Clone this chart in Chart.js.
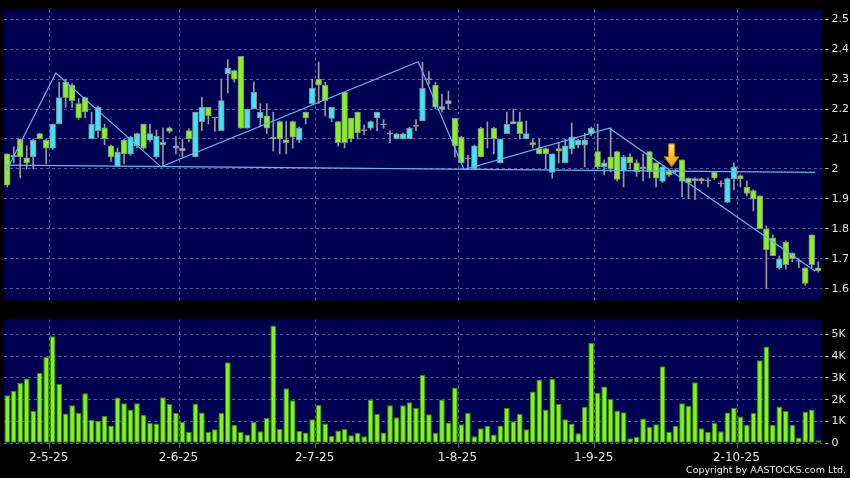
<!DOCTYPE html>
<html>
<head>
<meta charset="utf-8">
<script src="https://cdn.jsdelivr.net/npm/chart.js@4.4.1/dist/chart.umd.min.js"></script>
<style>
  html, body { margin: 0; padding: 0; background: #000; }
  #wrap { position: relative; width: 850px; height: 478px; overflow: hidden; background: #000; }
  #priceChart { position: absolute; left: 0; top: 0; }
  #volChart { position: absolute; left: 0; top: 310px; }
  #copy { position: absolute; right: 4px; top: 464px; font: 9.5px 'DejaVu Sans', sans-serif; color: #eee; white-space: nowrap; }
</style>
</head>
<body>
<div id="wrap">
  <canvas id="priceChart" width="850" height="310"></canvas>
  <canvas id="volChart" width="850" height="168"></canvas>
  <div id="copy">Copyright by AASTOCKS.com Ltd.</div>
</div>
<script>
// Daily candles (price)
const opens = [2.05, 2.04, 2.10, 2.037, 2.04, 2.118, 2.096, 2.069, 2.15, 2.29,
  2.28, 2.218, 2.238, 2.10, 2.128, 2.137, 2.077, 2.008, 2.096, 2.05,
  2.077, 2.15, 2.096, 2.04, 2.08, 2.137, 2.069, 2.06, 2.128, 2.04,
  2.158, 2.206, 2.17, 2.128, 2.318, 2.328, 2.376, 2.136, 2.2, 2.17,
  2.177, 2.106, 2.158, 2.097, 2.158, 2.096, 2.19, 2.218, 2.30, 2.28,
  2.169, 2.158, 2.257, 2.17, 2.19, 2.128, 2.136, 2.17, 2.147, 2.117,
  2.10, 2.10, 2.10, 2.142, 2.16, 2.298, 2.28, 2.199, 2.218, 2.169,
  2.106, 2.034, 2.0, 2.136, 2.10, 2.136, 2.02, 2.118, 2.15, 2.158,
  2.10, 2.088, 2.068, 2.068, 1.988, 2.068, 2.021, 2.068, 2.079, 2.079,
  2.118, 2.058, 2.007, 2.04, 2.058, 1.995, 2.04, 2.02, 2.0, 2.058,
  2.02, 1.958, 1.993, 1.99, 2.03, 1.969, 1.968, 1.968, 1.96, 1.989,
  1.95, 1.888, 1.967, 1.978, 1.939, 1.928, 1.91, 1.80, 1.77, 1.67,
  1.756, 1.719, 1.691, 1.67, 1.78, 1.67];
const highs = [2.05, 2.075, 2.10, 2.077, 2.10, 2.12, 2.10, 2.15, 2.29, 2.30,
  2.285, 2.235, 2.24, 2.19, 2.21, 2.15, 2.08, 2.07, 2.10, 2.11,
  2.12, 2.15, 2.15, 2.13, 2.137, 2.14, 2.108, 2.10, 2.135, 2.19,
  2.24, 2.206, 2.17, 2.30, 2.365, 2.33, 2.376, 2.2, 2.29, 2.218,
  2.218, 2.19, 2.16, 2.158, 2.16, 2.14, 2.19, 2.30, 2.357, 2.29,
  2.206, 2.158, 2.257, 2.17, 2.19, 2.147, 2.16, 2.19, 2.165, 2.128,
  2.12, 2.12, 2.14, 2.165, 2.357, 2.325, 2.29, 2.25, 2.26, 2.17,
  2.11, 2.045, 2.08, 2.14, 2.157, 2.14, 2.10, 2.19, 2.20, 2.19,
  2.16, 2.10, 2.10, 2.07, 2.05, 2.088, 2.10, 2.153, 2.10, 2.12,
  2.14, 2.15, 2.03, 2.137, 2.06, 2.045, 2.05, 2.03, 2.05, 2.06,
  2.02, 2.01, 2.0, 2.0, 2.03, 1.97, 1.97, 1.97, 1.97, 1.99,
  1.96, 1.97, 2.02, 1.98, 1.96, 1.93, 1.91, 1.81, 1.78, 1.71,
  1.76, 1.72, 1.70, 1.67, 1.78, 1.69];
const lows = [1.94, 2.02, 1.97, 2.00, 2.00, 2.10, 2.017, 2.065, 2.15, 2.205,
  2.205, 2.165, 2.17, 2.10, 2.105, 2.08, 2.025, 2.008, 2.017, 2.045,
  2.07, 2.065, 2.09, 2.035, 2.01, 2.12, 2.05, 2.04, 2.09, 2.04,
  2.128, 2.15, 2.125, 2.128, 2.254, 2.29, 2.136, 2.136, 2.2, 2.14,
  2.118, 2.06, 2.05, 2.05, 2.069, 2.088, 2.15, 2.215, 2.218, 2.177,
  2.158, 2.077, 2.07, 2.09, 2.10, 2.115, 2.13, 2.128, 2.135, 2.088,
  2.10, 2.10, 2.10, 2.128, 2.16, 2.283, 2.2, 2.19, 2.20, 2.04,
  2.02, 2.0, 2.0, 2.04, 2.07, 2.05, 2.02, 2.118, 2.15, 2.10,
  2.10, 2.07, 2.05, 2.0, 1.969, 2.02, 2.02, 2.05, 2.07, 2.007,
  2.11, 2.0, 1.98, 1.99, 1.96, 1.94, 2.0, 1.975, 1.96, 1.97,
  1.94, 1.955, 1.975, 1.985, 1.907, 1.90, 1.897, 1.95, 1.94, 1.965,
  1.94, 1.888, 1.93, 1.94, 1.91, 1.86, 1.80, 1.60, 1.71, 1.665,
  1.665, 1.69, 1.67, 1.612, 1.67, 1.655];
const closes = [1.946, 2.045, 2.04, 2.02, 2.096, 2.10, 2.069, 2.15, 2.238, 2.238,
  2.228, 2.17, 2.19, 2.15, 2.206, 2.10, 2.04, 2.056, 2.05, 2.106,
  2.118, 2.069, 2.118, 2.11, 2.089, 2.125, 2.077, 2.069, 2.10, 2.19,
  2.206, 2.177, 2.17, 2.228, 2.336, 2.30, 2.136, 2.2, 2.257, 2.19,
  2.136, 2.10, 2.10, 2.088, 2.106, 2.136, 2.17, 2.27, 2.28, 2.228,
  2.206, 2.088, 2.088, 2.10, 2.12, 2.128, 2.158, 2.19, 2.147, 2.117,
  2.117, 2.117, 2.136, 2.142, 2.269, 2.298, 2.206, 2.208, 2.228, 2.077,
  2.021, 2.034, 2.077, 2.04, 2.10, 2.10, 2.10, 2.149, 2.158, 2.118,
  2.118, 2.08, 2.05, 2.05, 2.05, 2.059, 2.077, 2.107, 2.096, 2.096,
  2.136, 2.007, 2.02, 2.0, 1.965, 2.04, 2.02, 1.99, 2.007, 1.99,
  1.969, 2.007, 1.98, 1.997, 1.958, 1.953, 1.96, 1.96, 1.96, 1.969,
  1.95, 1.968, 2.007, 1.967, 1.918, 1.899, 1.80, 1.73, 1.71, 1.70,
  1.68, 1.70, 1.691, 1.618, 1.68, 1.66];

// Volume in thousands of shares
const volumesK = [2.21, 2.41, 2.77, 2.97, 1.49, 3.23, 3.96, 4.91, 2.74, 1.37,
  1.75, 1.40, 2.30, 1.07, 1.04, 1.25, 0.82, 2.10, 1.84, 1.55,
  1.84, 1.30, 0.93, 0.91, 2.12, 1.80, 1.39, 0.99, 0.53, 1.83,
  1.42, 0.53, 0.64, 1.39, 3.72, 0.84, 0.52, 0.40, 0.98, 0.55,
  1.16, 5.41, 0.66, 2.53, 1.98, 0.56, 0.50, 1.11, 1.77, 0.91,
  0.34, 0.59, 0.66, 0.37, 0.47, 0.32, 2.01, 1.34, 0.50, 1.75,
  1.20, 1.75, 1.88, 1.63, 3.14, 1.33, 0.49, 2.01, 0.96, 2.56,
  0.88, 1.39, 0.32, 0.69, 0.79, 0.40, 0.82, 1.62, 1.01, 1.34,
  0.64, 2.38, 2.93, 1.55, 2.96, 1.80, 1.10, 0.91, 0.46, 1.68,
  4.60, 2.32, 2.61, 2.03, 1.51, 1.43, 0.23, 0.29, 1.14, 0.76,
  0.88, 3.54, 0.53, 0.79, 1.84, 1.72, 2.80, 0.69, 0.52, 0.93,
  0.55, 1.42, 1.63, 1.23, 0.84, 1.39, 3.81, 4.45, 0.85, 1.69,
  1.48, 0.85, 0.27, 1.46, 1.55, 0.14];

const priceTicks = [1.6, 1.7, 1.8, 1.9, 2.0, 2.1, 2.2, 2.3, 2.4, 2.5];
const volumeTicks = [0, 1, 2, 3, 4, 5];
const dateTickIndex = [7, 27, 48, 70, 91, 113];
const dateTickText = ['2-5-25', '2-6-25', '2-7-25', '1-8-25', '1-9-25', '2-10-25'];

// Drawn trend lines (bar index, price)
const flatLineX = [-0.2, 124.5];
const flatLineY = [2.013, 1.9885];
const zigzagX = [-0.1, 7.48, 23.7, 63.35, 70.4, 92.8, 124.5];
const zigzagY = [1.995, 2.32, 2.007, 2.358, 1.998, 2.136, 1.659];

// Signal arrow
const arrowIndex = 102.4;
const arrowTip = 2.007;

const N = closes.length;
const labels = Array.from({ length: N }, (_, i) => {
    const k = dateTickIndex.indexOf(i);
    return k >= 0 ? dateTickText[k] : '';
});

const upColor = '#3ce6f6';
const downColor = '#84f41e';
const dojiColor = '#999999';
const wickColor = '#999999';
const navy = '#000052';
const gridColor = '#5a5a94';
const textColor = '#e4e4e4';
const lineColor = '#62b6f0';

const gridAt = ctx => (ctx.tick && ctx.tick.label) ? gridColor : 'transparent';

// Paint plot background
const bgPlugin = {
    id: 'bg',
    beforeDraw(chart) {
        const { ctx, chartArea } = chart;
        ctx.save();
        ctx.fillStyle = '#000';
        ctx.fillRect(0, 0, chart.width, chart.height);
        ctx.fillStyle = navy;
        ctx.fillRect(chartArea.left, chartArea.top, chartArea.right - chartArea.left, chartArea.bottom - chartArea.top);
        ctx.restore();
    }
};

// Orange down arrow over the signal candle
const arrowPlugin = {
    id: 'arrow',
    afterDatasetsDraw(chart) {
        const { ctx, scales } = chart;
        const x = scales.xl.getPixelForValue(arrowIndex);
        const y = scales.y.getPixelForValue(arrowTip);
        ctx.save();
        const grad = ctx.createLinearGradient(0, y - 23, 0, y);
        grad.addColorStop(0, '#ffe27a');
        grad.addColorStop(1, '#f0a000');
        ctx.beginPath();
        ctx.moveTo(x - 3, y - 23);
        ctx.lineTo(x + 3, y - 23);
        ctx.lineTo(x + 3, y - 10);
        ctx.lineTo(x + 7.5, y - 10);
        ctx.lineTo(x, y);
        ctx.lineTo(x - 7.5, y - 10);
        ctx.lineTo(x - 3, y - 10);
        ctx.closePath();
        ctx.fillStyle = grad;
        ctx.fill();
        ctx.strokeStyle = '#b87400';
        ctx.lineWidth = 1;
        ctx.stroke();
        ctx.restore();
    }
};

function xAxis(showLabels) {
    return {
        type: 'category',
        labels: labels,
        offset: true,
        grid: {
            offset: true,
            color: gridAt,
            drawTicks: showLabels,
            tickLength: 5,
            tickColor: gridAt
        },
        border: { display: false, dash: [3, 3] },
        ticks: {
            display: showLabels,
            autoSkip: false,
            maxRotation: 0,
            minRotation: 0,
            labelOffset: -4,
            padding: 2,
            color: textColor,
            font: { family: 'DejaVu Sans', size: 12 }
        }
    };
}

function rightAxis(min, max, tickList, fmt) {
    return {
        position: 'right',
        min: min,
        max: max,
        afterBuildTicks: axis => { axis.ticks = tickList.map(v => ({ value: v })); },
        afterFit: axis => { axis.width = 28.5; },
        grid: {
            color: gridColor,
            tickLength: 7,
            tickColor: '#bbbbbb',
            tickBorderDash: [0, 3, 4, 20]
        },
        border: { display: false, dash: [3, 3] },
        ticks: {
            padding: 3,
            color: textColor,
            font: { family: 'DejaVu Sans', size: 11 },
            callback: fmt
        }
    };
}

const candleColors = closes.map((c, i) => c > opens[i] ? upColor : (c < opens[i] ? downColor : dojiColor));

new Chart(document.getElementById('priceChart'), {
    type: 'bar',
    data: {
        labels: labels,
        datasets: [
            {
                type: 'line',
                xAxisID: 'xl',
                data: zigzagX.map((x, i) => ({ x: x, y: zigzagY[i] })),
                borderColor: lineColor,
                borderWidth: 1.2,
                pointRadius: 0,
                tension: 0
            },
            {
                type: 'line',
                xAxisID: 'xl',
                data: flatLineX.map((x, i) => ({ x: x, y: flatLineY[i] })),
                borderColor: lineColor,
                borderWidth: 1.2,
                pointRadius: 0,
                tension: 0
            },
            {
                data: opens.map((o, i) => [o, closes[i]]),
                backgroundColor: candleColors,
                borderColor: '#8a8a8a',
                borderWidth: 1,
                borderSkipped: false,
                barThickness: 5.8,
                minBarLength: 1,
                grouped: false
            },
            {
                data: lows.map((l, i) => [l, highs[i]]),
                backgroundColor: wickColor,
                barThickness: 1,
                grouped: false
            }
        ]
    },
    options: {
        responsive: false,
        animation: false,
        devicePixelRatio: 1,
        layout: { padding: { left: 4, top: 6, bottom: 4, right: 0 } },
        plugins: { legend: { display: false }, tooltip: { enabled: false } },
        scales: {
            x: xAxis(false),
            // invisible linear twin of x, for the hand-drawn lines
            xl: {
                type: 'linear',
                position: 'bottom',
                min: -0.5,
                max: N - 0.5,
                offset: false,
                grid: { display: false, drawTicks: false },
                border: { display: false },
                ticks: { display: false }
            },
            y: rightAxis(1.561, 2.532, priceTicks, v => String(+v.toFixed(1)))
        }
    },
    plugins: [bgPlugin, arrowPlugin]
});

new Chart(document.getElementById('volChart'), {
    type: 'bar',
    data: {
        labels: labels,
        datasets: [{
            data: volumesK,
            backgroundColor: '#7ef712',
            borderColor: '#3d8a0a',
            borderWidth: 1,
            borderSkipped: false,
            barPercentage: 0.88,
            categoryPercentage: 1
        }]
    },
    options: {
        responsive: false,
        animation: false,
        devicePixelRatio: 1,
        layout: { padding: { left: 4, top: 9, bottom: 10, right: 0 } },
        plugins: { legend: { display: false }, tooltip: { enabled: false } },
        scales: {
            x: Object.assign(xAxis(true), { afterFit: axis => { axis.height = 24.7; } }),
            y: rightAxis(0, 5.68, volumeTicks, v => v === 0 ? '0' : v + 'K')
        }
    },
    plugins: [bgPlugin]
});
</script>
</body>
</html>
